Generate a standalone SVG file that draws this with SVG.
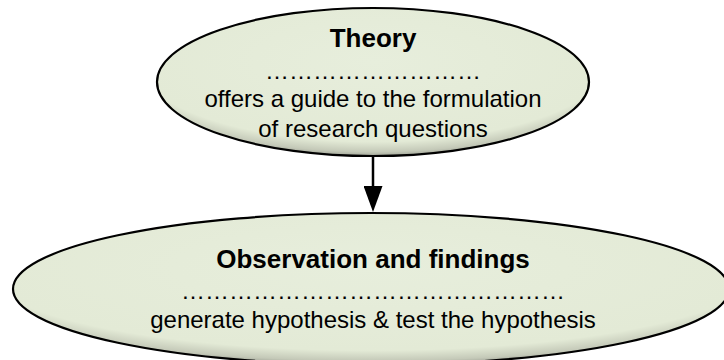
<svg xmlns="http://www.w3.org/2000/svg" width="724" height="360" viewBox="0 0 724 360">
  <style>
    .node { stroke: #000; stroke-width: 2.2; fill: url(#bevel); }
    .title { font-family: "Liberation Sans", Arial, sans-serif; font-size: 26px; font-weight: bold; fill: #000; text-anchor: middle; }
    .body { font-family: "Liberation Sans", Arial, sans-serif; font-size: 24px; fill: #000; text-anchor: middle; }
    .edge { stroke: #000; stroke-width: 2.5; fill: none; }
  </style>
  <defs>
    <radialGradient id="bevel" cx="0.5" cy="0.36" r="0.68">
      <stop offset="0" stop-color="#E7EEDC"/>
      <stop offset="0.8" stop-color="#E3EAD6"/>
      <stop offset="0.9" stop-color="#C4C9B8"/>
      <stop offset="1" stop-color="#6F716A"/>
    </radialGradient>
    <marker id="arrow" markerUnits="userSpaceOnUse" viewBox="0 0 26 19" markerWidth="26" markerHeight="19" refX="14" refY="9.5" orient="auto">
      <path d="M0,0 L26,9.5 L0,19 z" fill="#000"/>
    </marker>
  </defs>

  <g id="connectors">
    <line class="edge" x1="373" y1="156" x2="373" y2="200" marker-end="url(#arrow)"/>
  </g>

  <g id="theory">
    <ellipse class="node" cx="373" cy="82" rx="216" ry="74"/>
    <text class="title" x="373" y="47">Theory</text>
    <text class="body" x="373" y="79">………………………</text>
    <text class="body" x="373" y="107">offers a guide to the formulation</text>
    <text class="body" x="373" y="137">of research questions</text>
  </g>

  <g id="observation">
    <ellipse class="node" cx="371" cy="289" rx="358" ry="76"/>
    <text class="title" x="373" y="268">Observation and findings</text>
    <text class="body" x="373" y="299">…………………………………………</text>
    <text class="body" x="373" y="328">generate hypothesis &amp; test the hypothesis</text>
  </g>
</svg>
